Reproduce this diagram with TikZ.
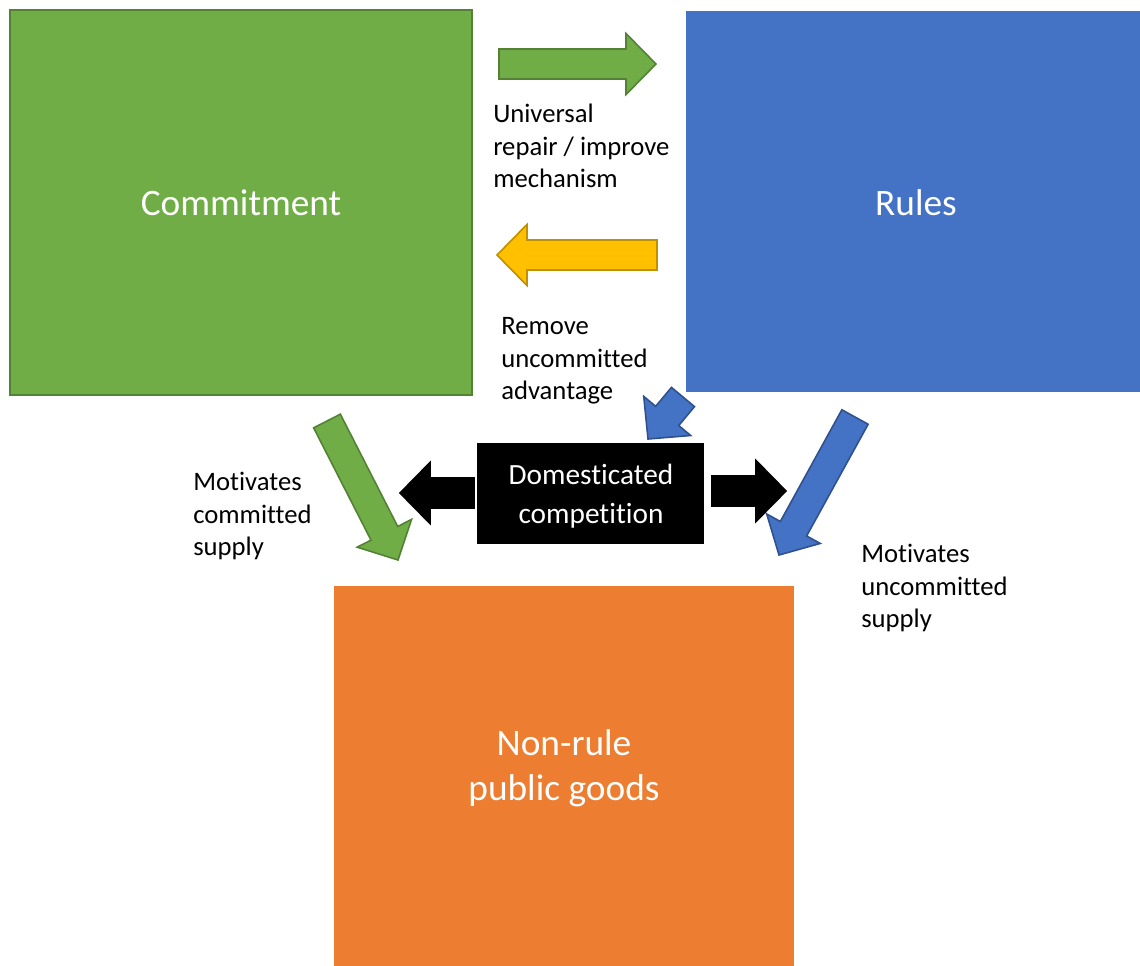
\documentclass[tikz,border=0pt]{standalone}
\usepackage{fontspec}
\setmainfont{Carlito}[Ligatures=NoCommon]
\usetikzlibrary{calc}

\definecolor{cgreen}{HTML}{70AD47}
\definecolor{cgreenline}{HTML}{548235}
\definecolor{rblue}{HTML}{4472C4}
\definecolor{rblueline}{HTML}{2F528F}
\definecolor{gorange}{HTML}{ED7D31}
\definecolor{ryellow}{HTML}{FFC000}
\definecolor{ryellowline}{HTML}{BF9000}

\newcommand{\fatarrow}[4] % {fill}{line}{tail}{tip}
{
 \filldraw[fill=#1,draw=#2,line width=1.2pt,line join=miter]
   ($(#3)!\sw!90:(#4)$)
   -- ($(#4)!\hl!(#3)!\sw!-90:(#3)$)
   -- ($(#4)!\hl!(#3)!\hw!-90:(#3)$)
   -- (#4)
   -- ($(#4)!\hl!(#3)!\hw!90:(#3)$)
   -- ($(#4)!\hl!(#3)!\sw!90:(#3)$)
   -- ($(#3)!\sw!-90:(#4)$) -- cycle;
}

\tikzset{
  block/.style={rectangle, text=white, align=center,
    font=\fontsize{28}{34}\selectfont},
  note/.style={anchor=west, align=left, inner sep=0pt,
    font=\fontsize{20}{24.4}\selectfont}
}

\begin{document}
\begin{tikzpicture}[x=0.75pt,y=-0.75pt]

\useasboundingbox (0,0) rectangle (1140,965);

\def\sw{11.25pt} % half shaft
\def\hw{22.9pt}  % half head
\def\hl{22.5pt}  % head length

% the four boxes
\node[block, fill=cgreen, draw=cgreenline, line width=1.5pt,
  minimum width=346.5pt, minimum height=288.75pt] (commit) at (241,202.5) {Commitment};
\node[block, fill=rblue,
  minimum width=340.5pt, minimum height=285.75pt] (rules) at (913,201.5) {};
\node[block] (rulestext) at (916,203) {Rules};
\node[block, fill=gorange,
  minimum width=345pt, minimum height=285pt] (goods) at (564,776) {};
\node[block] (goodstext) at (564,768) {Non-rule\\public goods};
\node[block, fill=black,
  minimum width=170.25pt, minimum height=75.75pt] (comp) at (590.5,493.5) {};
\node[block, font=\fontsize{22}{29}\selectfont] (comptext) at (591,496) {Domesticated\\competition};

% arrow ends
\coordinate (repairT) at (499,64);   \coordinate (repairP) at (656,64);
\coordinate (removeT) at (657,255);  \coordinate (removeP) at (497,255);
\coordinate (domT) at (683,397);     \coordinate (domP) at (648,439);
\coordinate (csupT) at (327,421);    \coordinate (csupP) at (398,560);
\coordinate (usupT) at (855,417);    \coordinate (usupP) at (779,555);
\coordinate (compLT) at (474,493);   \coordinate (compLP) at (400,493);
\coordinate (compRT) at (712,491);   \coordinate (compRP) at (786,491);

\fatarrow{cgreen}{cgreenline}{repairT}{repairP}
\fatarrow{ryellow}{ryellowline}{removeT}{removeP}
\fatarrow{rblue}{rblueline}{domT}{domP}
\fatarrow{cgreen}{cgreenline}{csupT}{csupP}
\fatarrow{rblue}{rblueline}{usupT}{usupP}
\fatarrow{black}{black}{compLT}{compLP}
\fatarrow{black}{black}{compRT}{compRP}

% labels
\node[note] (repair) at (493,146) {Universal\\repair / improve\\mechanism};
\node[note] (remove) at (501,361) {Remove\\uncommitted\\advantage};
\node[note] (csup) at (193,516) {Motivates\\committed\\supply};
\node[note] (usup) at (861,588) {Motivates\\uncommitted\\supply};

\end{tikzpicture}
\end{document}
